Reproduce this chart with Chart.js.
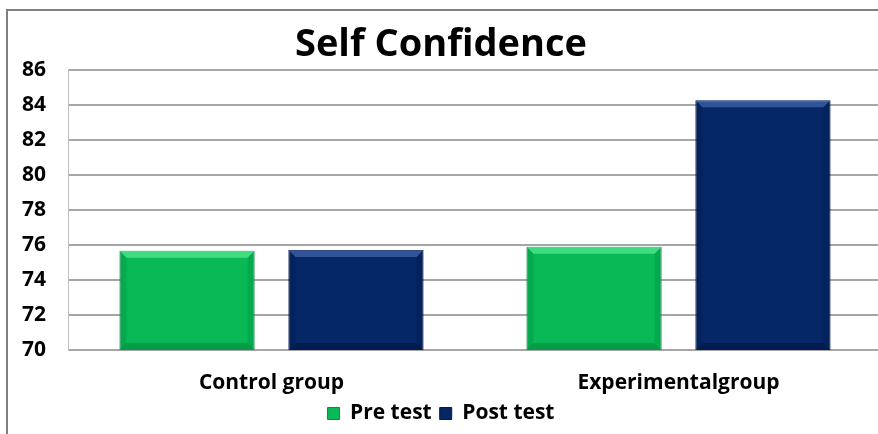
<!DOCTYPE html>
<html>
<head>
<meta charset="utf-8">
<script src="https://cdn.jsdelivr.net/npm/chart.js@4/dist/chart.umd.min.js"></script>
<style>
  html, body { margin: 0; padding: 0; background: #fff; }
  #wrap { position: relative; width: 878px; height: 434px; overflow: hidden; }
  #box { position: absolute; left: 0; top: 0; width: 924px; height: 434px; }
</style>
</head>
<body>
<div id="wrap"><div id="box"><canvas id="c" width="924" height="434"></canvas></div></div>
<script>
const categories = ['Control group', 'Experimentalgroup'];
const preTest = [75.67, 75.89];
const postTest = [75.71, 84.25];
const yMin = 70, yMax = 86, yStep = 2;
const seriesNames = ['Pre test', 'Post test'];

const bevelColors = [
  { light: 'rgba(120,255,170,0.5)', dark: 'rgba(0,90,40,0.3)' },
  { light: 'rgba(90,130,200,0.5)', dark: 'rgba(0,10,40,0.35)' }
];

const bevelPlugin = {
  id: 'bevel',
  afterDatasetsDraw(chart) {
    const ctx = chart.ctx;
    const ys = chart.scales.y;
    chart.data.datasets.forEach((ds, di) => {
      const meta = chart.getDatasetMeta(di);
      meta.data.forEach(bar => {
        const l = bar.x - bar.width / 2, r = bar.x + bar.width / 2, t = bar.y;
        const b = ys.getPixelForValue(yMin);
        const d = 7;
        ctx.save();
        ctx.fillStyle = bevelColors[di].light;
        ctx.beginPath();
        ctx.moveTo(l, t); ctx.lineTo(r, t); ctx.lineTo(r - d, t + d); ctx.lineTo(l + d, t + d); ctx.closePath();
        ctx.fill();
        ctx.fillStyle = bevelColors[di].dark;
        ctx.beginPath();
        ctx.moveTo(l, b); ctx.lineTo(r, b); ctx.lineTo(r - d, b - d); ctx.lineTo(l + d, b - d); ctx.closePath();
        ctx.fill();
        ctx.globalAlpha = 0.5;
        ctx.beginPath();
        ctx.moveTo(l, t); ctx.lineTo(l + d, t + d); ctx.lineTo(l + d, b - d); ctx.lineTo(l, b); ctx.closePath();
        ctx.fill();
        ctx.beginPath();
        ctx.moveTo(r, t); ctx.lineTo(r - d, t + d); ctx.lineTo(r - d, b - d); ctx.lineTo(r, b); ctx.closePath();
        ctx.fill();
        ctx.restore();
      });
    });
  }
};

const framePlugin = {
  id: 'frame',
  afterDraw(chart) {
    const ctx = chart.ctx;
    ctx.save();
    ctx.strokeStyle = '#7f7f7f';
    ctx.lineWidth = 2;
    ctx.beginPath();
    ctx.moveTo(7, 434);
    ctx.lineTo(7, 10);
    ctx.lineTo(chart.width, 10);
    ctx.stroke();
    ctx.restore();
  }
};

new Chart(document.getElementById('c'), {
  type: 'bar',
  data: {
    labels: categories,
    datasets: [
      { label: seriesNames[0], data: preTest, backgroundColor: '#08b955', borderColor: '#0a8c42', borderWidth: 1, categoryPercentage: 0.83, barPercentage: 0.8 },
      { label: seriesNames[1], data: postTest, backgroundColor: '#062766', borderColor: '#041a47', borderWidth: 1, categoryPercentage: 0.83, barPercentage: 0.8 }
    ]
  },
  options: {
    responsive: false,
    animation: false,
    layout: { padding: { left: 0, right: 42, top: 22, bottom: 0 } },
    plugins: {
      title: {
        display: true, text: 'Self Confidence', color: '#000',
        font: { family: 'Open Sans', size: 38, weight: 'bold' },
        padding: { top: 0, bottom: 2 }
      },
      legend: {
        position: 'bottom',
        labels: {
          color: '#000', boxWidth: 12, boxHeight: 12, padding: 8,
          font: { family: 'Open Sans', size: 21, weight: 'bold' }
        }
      },
      tooltip: { enabled: false }
    },
    scales: {
      x: {
        afterFit(s) { s.height = 45; },
        grid: { display: false, drawTicks: false },
        border: { display: false },
        ticks: { color: '#000', padding: 20, font: { family: 'Open Sans', size: 21, weight: 'bold' } }
      },
      y: {
        min: yMin, max: yMax,
        afterFit(s) { s.width = 68; },
        grid: { color: '#a6a6a6', lineWidth: 2, drawTicks: false },
        border: { color: '#bfbfbf', width: 1 },
        ticks: { stepSize: yStep, color: '#000', padding: 22, font: { family: 'Open Sans', size: 21, weight: 'bold' } }
      }
    }
  },
  plugins: [bevelPlugin, framePlugin]
});
</script>
</body>
</html>
